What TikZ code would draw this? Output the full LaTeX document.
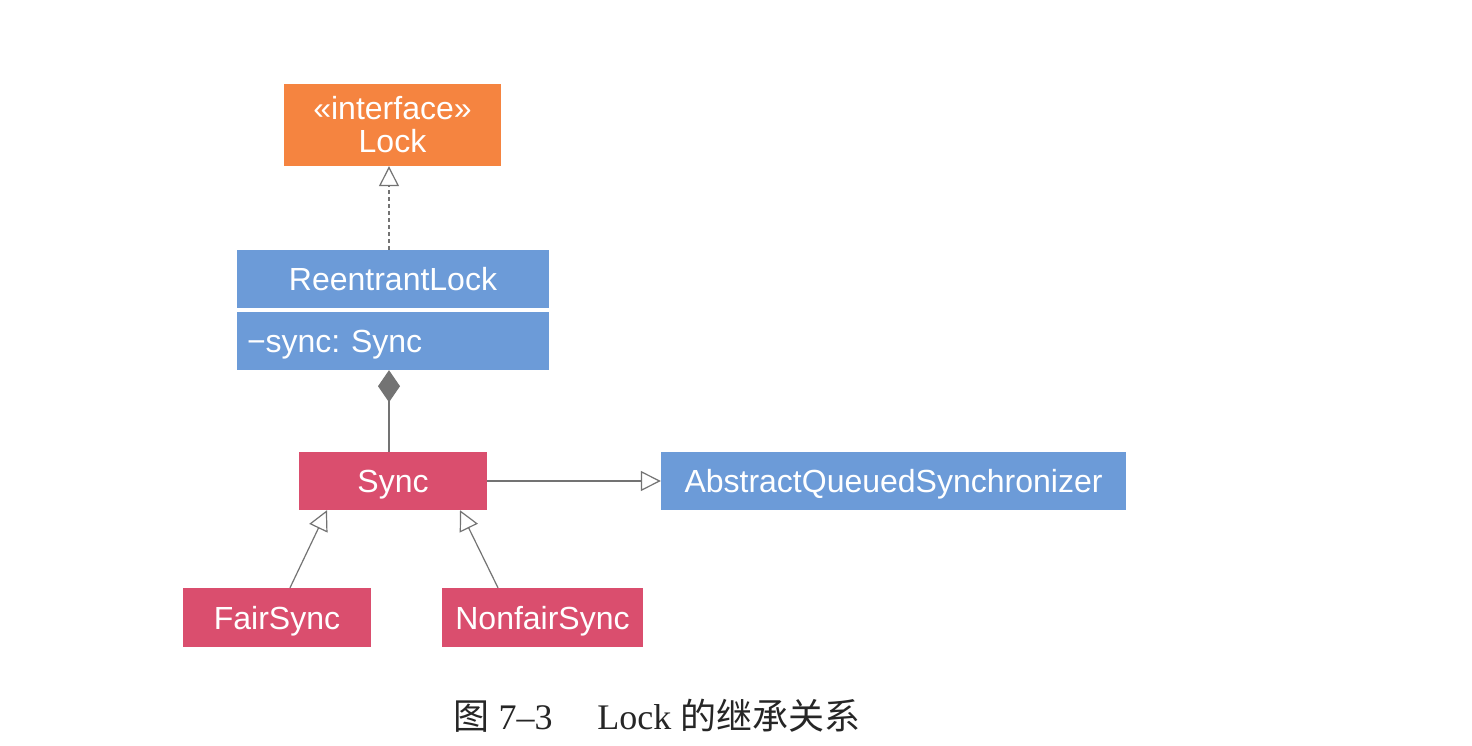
\documentclass[tikz,border=0pt]{standalone}
\usepackage{fontspec}
\setmainfont{Liberation Sans}
\newfontfamily\capfont{Liberation Serif}
\newfontfamily\cjk{Noto Sans CJK SC}
\usetikzlibrary{arrows.meta}
\frenchspacing
\definecolor{lockorange}{RGB}{245,132,64}
\definecolor{umlblue}{RGB}{108,155,216}
\definecolor{umlpink}{RGB}{218,78,110}
\definecolor{linegray}{RGB}{115,115,115}
\tikzset{
  umlbox/.style={draw=none, text=white, inner sep=0pt, font=\fontsize{32}{33}\selectfont},
  oneline/.style={text height=23pt, text depth=0pt},
  realize/.style={draw=linegray, line width=1.2pt, dashed, dash pattern=on 4pt off 3pt,
     -{Triangle[open, width=20pt, length=20pt, line width=1.2pt]}},
  inherit/.style={draw=linegray, line width=1.2pt,
     -{Triangle[open, width=20pt, length=20pt, line width=1.2pt]}},
  compose/.style={draw=linegray, line width=1.2pt,
     -{Diamond[width=22pt, length=32pt, fill=linegray]}},
}
\begin{document}
\begin{tikzpicture}[x=1pt,y=-1pt]
\useasboundingbox[fill=white] (0,0) rectangle (1472,746);
\node[umlbox, fill=lockorange, minimum width=217pt, minimum height=82pt, align=center] (lock) at (392.5,125) {«interface»\\Lock};
\node[umlbox, oneline, fill=umlblue, minimum width=312pt, minimum height=58pt] (rtop) at (393,279) {ReentrantLock};
\node[umlbox, oneline, fill=umlblue, minimum width=312pt, minimum height=58pt, text width=292pt, align=left] (rbot) at (393,341) {−sync: Sync};
\node[umlbox, oneline, fill=umlpink, minimum width=188pt, minimum height=58pt] (sync) at (393,481) {Sync};
\node[umlbox, oneline, fill=umlblue, minimum width=465pt, minimum height=58pt] (aqs) at (893.5,481) {AbstractQueuedSynchronizer};
\node[umlbox, oneline, fill=umlpink, minimum width=188pt, minimum height=59pt] (fair) at (277,617.5) {FairSync};
\node[umlbox, oneline, fill=umlpink, minimum width=201pt, minimum height=59pt] (nonfair) at (542.5,617.5) {NonfairSync};
\draw[realize] ([xshift=-4pt]rtop.north) -- ([xshift=-3.5pt]lock.south);
\draw[compose] ([xshift=-4pt]sync.north) -- ([xshift=-4pt]rbot.south);
\draw[inherit] (sync.east) -- (aqs.west);
\draw[inherit] ([xshift=13pt]fair.north) -- ([xshift=-66pt]sync.south);
\draw[inherit] ([xshift=-44.5pt]nonfair.north) -- ([xshift=67pt]sync.south);
\node[font=\capfont\fontsize{36}{38}\selectfont, text=black!85] (cap) at (657,716) {{\cjk 图} 7–3\hspace{1.25em}Lock {\cjk 的继承关系}};
\end{tikzpicture}
\end{document}
